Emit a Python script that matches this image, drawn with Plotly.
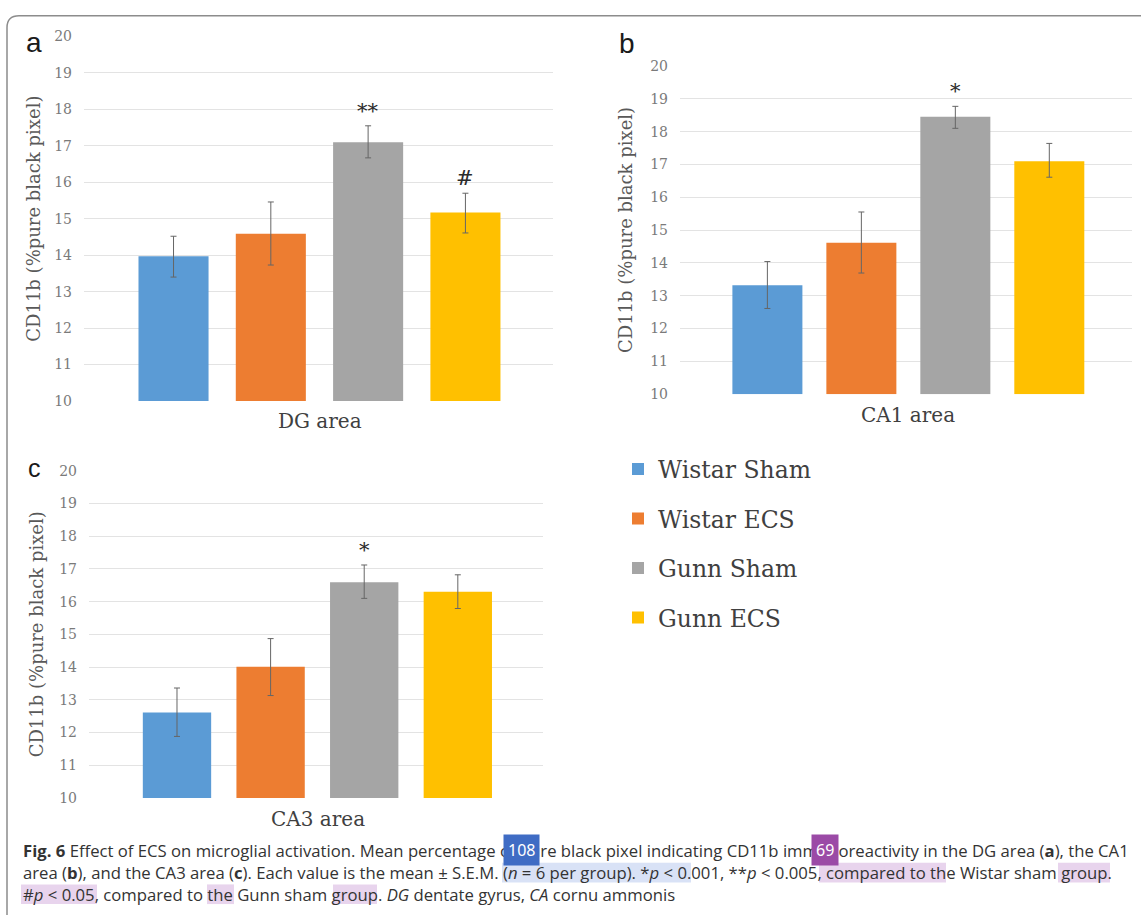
import plotly.graph_objects as go

W, H = 1141, 915

groups = ["Wistar Sham", "Wistar ECS", "Gunn Sham", "Gunn ECS"]
colors = ["#5b9bd5", "#ed7d31", "#a5a5a5", "#ffc000"]

areas = ["DG area", "CA1 area", "CA3 area"]
panel_labels = ["a", "b", "c"]

dg_mean = [13.97, 14.59, 17.10, 15.17]
dg_up = [14.52, 15.46, 17.55, 15.70]
dg_lo = [13.40, 13.73, 16.67, 14.61]
dg_sig = ["", "", "**", "#"]

ca1_mean = [13.32, 14.61, 18.45, 17.10]
ca1_up = [14.04, 15.55, 18.77, 17.64]
ca1_lo = [12.61, 13.69, 18.10, 16.61]
ca1_sig = ["", "", "*", ""]

ca3_mean = [12.61, 14.01, 16.59, 16.30]
ca3_up = [13.36, 14.87, 17.12, 16.82]
ca3_lo = [11.88, 13.13, 16.10, 15.79]
ca3_sig = ["", "", "*", ""]

y_ticks = [10, 11, 12, 13, 14, 15, 16, 17, 18, 19, 20]

caption_lines = [
    "<b>Fig. 6</b> Effect of ECS on microglial activation. Mean percentage of pure black pixel indicating CD11b immunoreactivity in the DG area (<b>a</b>), the CA1",
    "area (<b>b</b>), and the CA3 area (<b>c</b>). Each value is the mean ± S.E.M. (<i>n</i> = 6 per group). *<i>p</i> &lt; 0.001, **<i>p</i> &lt; 0.005, compared to the Wistar sham group.",
    "#<i>p</i> &lt; 0.05, compared to the Gunn sham group. <i>DG</i> dentate gyrus, <i>CA</i> cornu ammonis",
]
badges = ["108", "69"]

data = [
    (dg_mean, dg_up, dg_lo, dg_sig),
    (ca1_mean, ca1_up, ca1_lo, ca1_sig),
    (ca3_mean, ca3_up, ca3_lo, ca3_sig),
]

# pixel geometry of each panel (page pixels)
geom = [
    dict(x0=84, x1=553, yt=29, yb=400, xr=[-0.92, 3.9], bw=0.72, lab=(34, 35, 28), ytl=34, xtl=(320, 420)),
    dict(x0=680, x1=1132, yt=59, yb=393, xr=[-0.93, 3.88], bw=0.745, lab=(627, 36, 28), ytl=625, xtl=(908, 414)),
    dict(x0=89, x1=543, yt=471, yb=804, xr=[-0.94, 3.91], bw=0.73, lab=(34, 468, 25), ytl=36, xtl=(318, 825)),
]

def px(x):
    return x / W

def py(y):
    return 1 - y / H

serif = "DejaVu Serif"
fig = go.Figure()
annotations = []

for p, (mean, up, lo, sig) in enumerate(data):
    g = geom[p]
    xa = "x" if p == 0 else f"x{p+1}"
    ya = "y" if p == 0 else f"y{p+1}"
    for i, grp in enumerate(groups):
        fig.add_trace(go.Bar(
            x=[grp], y=[mean[i] - 10], base=10,
            marker=dict(color=colors[i], line=dict(width=0)),
            width=g["bw"],
            name=grp, legendgroup=grp, showlegend=(p == 0),
            error_y=dict(type="data", symmetric=False,
                         array=[up[i] - mean[i]], arrayminus=[mean[i] - lo[i]],
                         color="#666666", thickness=1, width=3),
            xaxis=xa, yaxis=ya,
        ))
        if sig[i]:
            annotations.append(dict(
                x=grp, y=up[i], xref=xa, yref=ya, text=sig[i], showarrow=False,
                yanchor="bottom", yshift=1, font=dict(family=serif, size=21, color="#2b2b2b")))
    axkey = "xaxis" if p == 0 else f"xaxis{p+1}"
    aykey = "yaxis" if p == 0 else f"yaxis{p+1}"
    fig.update_layout(**{
        axkey: dict(domain=[px(g["x0"]), px(g["x1"])], anchor=ya, type="category",
                    categoryorder="array", categoryarray=groups,
                    range=g["xr"], showticklabels=False, showgrid=False,
                    zeroline=False, showline=False, ticks=""),
        aykey: dict(domain=[py(g["yb"]), py(g["yt"])], anchor=xa, range=[10, 20],
                    tickvals=y_ticks, showgrid=True, gridcolor="#e3e3e3", gridwidth=1,
                    zeroline=False, showline=False, ticks="",
                    ticklabelstandoff=11,
                    tickfont=dict(family=serif, size=14, color="#7a7a7a")),
    })
    annotations.append(dict(
        x=px(g["lab"][0]), y=py(g["lab"][1]), xref="paper", yref="paper",
        text=panel_labels[p], showarrow=False, xanchor="center", yanchor="middle",
        font=dict(family="Liberation Sans", size=g["lab"][2], color="#1a1a1a")))
    annotations.append(dict(
        x=px(g["ytl"]), y=py((g["yt"] + g["yb"]) / 2), xref="paper", yref="paper",
        text="CD11b (%pure black pixel)", textangle=-90, showarrow=False,
        xanchor="center", yanchor="middle",
        font=dict(family=serif, size=18, color="#595959")))
    annotations.append(dict(
        x=px(g["xtl"][0]), y=py(g["xtl"][1]), xref="paper", yref="paper",
        text=areas[p], showarrow=False, xanchor="center", yanchor="middle",
        font=dict(family=serif, size=20, color="#404040")))

# caption
cap_y = [857, 880, 902]
for k, line in enumerate(caption_lines):
    annotations.append(dict(
        x=px(21), y=py(cap_y[k]), xref="paper", yref="paper", text=line,
        showarrow=False, xanchor="left", yanchor="middle",
        font=dict(family="Open Sans", size=16.7, color="#333333")))

# overlay badges seen on the page
badge_pos = [(521, 857, "#3f6cc4"), (825, 857, "#9b4aa6")]
for b, (bxp, byp, bc) in zip(badges, badge_pos):
    annotations.append(dict(x=px(bxp), y=py(byp), xref="paper", yref="paper", text=b,
                            showarrow=False, bgcolor=bc, borderpad=4,
                            xanchor="center", yanchor="middle",
                            font=dict(family="Noto Sans", size=16, color="white")))

shapes = []
# highlighted caption phrases (light blue / light purple marks on the page)
hl = [
    (502, 691, 880, "rgba(170,190,235,0.45)"),
    (819, 946, 880, "rgba(205,160,215,0.45)"),
    (1058, 1110, 880, "rgba(205,160,215,0.45)"),
    (21, 97, 902, "rgba(205,160,215,0.45)"),
    (207, 234, 902, "rgba(205,160,215,0.45)"),
    (333, 377, 902, "rgba(205,160,215,0.45)"),
]
for x0h, x1h, yc, col in hl:
    shapes.append(dict(type="rect", xref="paper", yref="paper", layer="below",
                       x0=px(x0h), x1=px(x1h), y0=py(yc + 10), y1=py(yc - 10),
                       fillcolor=col, line=dict(width=0)))

# rounded border of the figure box
r = 12
bx, by = px(7), py(8)
border_path = (f"M {bx} -0.02 L {bx} {py(8 + r)} Q {bx} {by} {px(7 + r)} {by} L 1.02 {by}")
shapes.append(dict(type="path", path=border_path, xref="paper", yref="paper",
                   line=dict(color="#8c8c8c", width=1.5)))

fig.update_layout(
    width=W, height=H,
    margin=dict(l=0, r=0, t=0, b=0),
    paper_bgcolor="white", plot_bgcolor="white",
    barmode="overlay",
    showlegend=True,
    legend=dict(x=px(618), y=py(447), xanchor="left", yanchor="top",
                font=dict(family=serif, size=23.5, color="#404040"),
                tracegroupgap=16, itemwidth=30, bgcolor="rgba(0,0,0,0)",
                traceorder="grouped"),
    annotations=annotations,
    shapes=shapes,
)

fig.write_html(
    "out.html",
    config={"displayModeBar": False},
    post_script="document.body.style.margin='0';"
                "document.body.style.overflow='hidden';"
                "document.documentElement.style.overflow='hidden';",
)
